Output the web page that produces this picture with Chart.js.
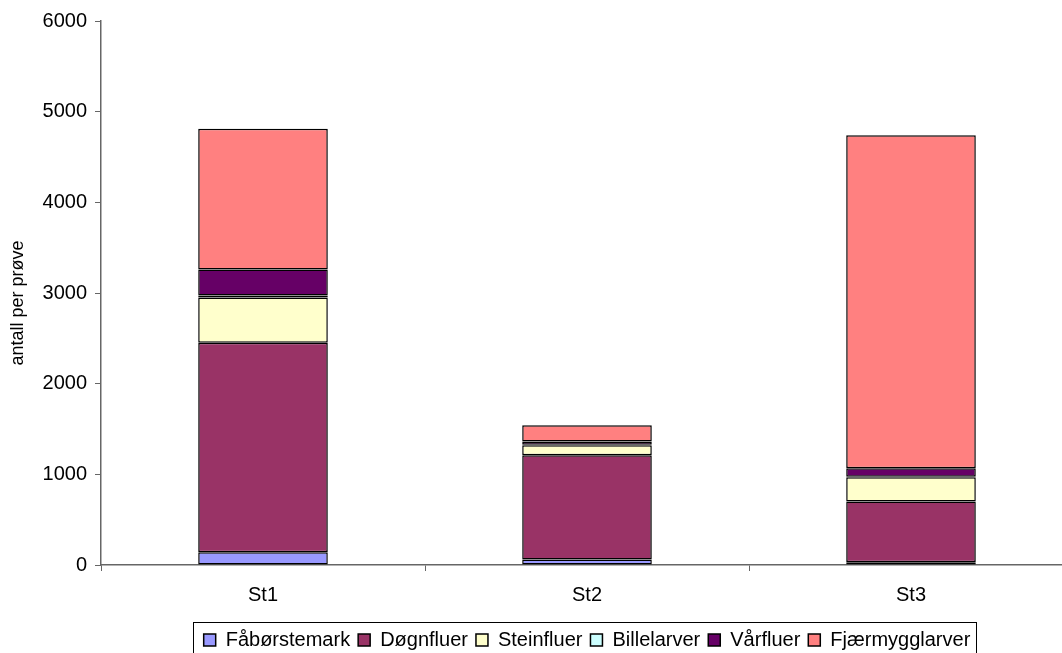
<!DOCTYPE html>
<html>
<head>
<meta charset="utf-8">
<script src="https://cdn.jsdelivr.net/npm/chart.js@4"></script>
<style>
  html, body { margin: 0; padding: 0; background: #fff; overflow: hidden; }
  #wrap { width: 1080px; height: 660px; }
</style>
</head>
<body>
<div id="wrap"><canvas id="chart" width="1080" height="660"></canvas></div>
<script>
const stations = ["St1", "St2", "St3"];
const faborstemark = [140, 60, 30];
const dognfluer = [2310, 1150, 670];
const steinfluer = [500, 110, 268];
const billelarver = [22, 5, 5];
const varfluer = [287, 38, 95];
const fjaermygglarver = [1552, 178, 3672];

Chart.defaults.font.family = "'Liberation Sans', Arial, sans-serif";
Chart.defaults.color = "#000";

function series(label, data, color) {
  return {
    label: label,
    data: data,
    backgroundColor: color,
    borderColor: "#000",
    borderWidth: 1.5,
    borderSkipped: false,
    categoryPercentage: 1,
    barPercentage: 0.4,
  };
}

// frame around the legend, like the original
const legendFrame = {
  id: "legendFrame",
  afterDraw(chart) {
    const lg = chart.legend;
    const boxes = lg.legendHitBoxes;
    if (!boxes || !boxes.length) return;
    const first = boxes[0];
    const last = boxes[boxes.length - 1];
    const ctx = chart.ctx;
    ctx.save();
    ctx.strokeStyle = "#000";
    ctx.lineWidth = 1;
    const left = Math.round(first.left - 11) + 0.5;
    const right = Math.round(last.left + last.width + 6) + 0.5;
    const top = Math.round(lg.top) + 0.5;
    ctx.strokeRect(left, top, right - left, 60);
    ctx.restore();
  },
};

new Chart(document.getElementById("chart").getContext("2d"), {
  type: "bar",
  data: {
    labels: stations,
    datasets: [
      series("Fåbørstemark", faborstemark, "#9999FF"),
      series("Døgnfluer", dognfluer, "#993366"),
      series("Steinfluer", steinfluer, "#FFFFCC"),
      series("Billelarver", billelarver, "#CCFFFF"),
      series("Vårfluer", varfluer, "#660066"),
      series("Fjærmygglarver", fjaermygglarver, "#FF8080"),
    ],
  },
  options: {
    responsive: false,
    animation: false,
    layout: { padding: { left: 0, top: 21, right: 7, bottom: 0 } },
    scales: {
      x: {
        stacked: true,
        offset: true,
        grid: { offset: true, drawOnChartArea: false, tickLength: 6, color: "#666" },
        border: { color: "#666", width: 1.5 },
        ticks: { font: { size: 20 }, padding: 12 },
        afterFit(scale) { scale.height = 57; },
      },
      y: {
        stacked: true,
        min: 0,
        max: 6000,
        grid: { drawOnChartArea: false, tickLength: 6, color: "#666" },
        border: { color: "#666", width: 1.5 },
        ticks: {
          stepSize: 1000,
          font: { size: 20 },
          padding: 8,
          callback: (v) => String(v),
        },
        title: {
          display: true,
          text: "antall per prøve    ",
          font: { size: 18 },
          padding: { top: 7, bottom: 0 },
        },
        afterFit(scale) { scale.width = 101; },
      },
    },
    plugins: {
      legend: {
        position: "bottom",
        fullSize: false,
        labels: { boxWidth: 12, boxHeight: 12, padding: 8, font: { size: 20 } },
      },
      tooltip: { enabled: false },
    },
  },
  plugins: [legendFrame],
});
</script>
</body>
</html>
